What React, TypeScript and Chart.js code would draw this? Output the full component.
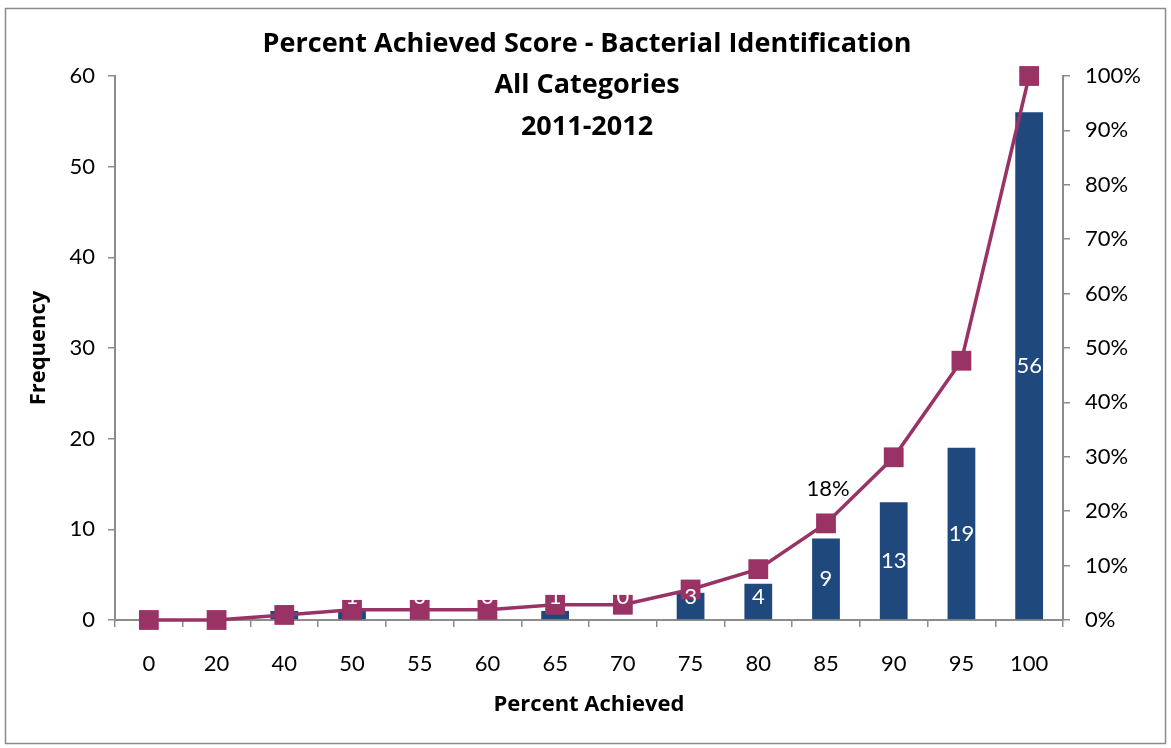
import React, { useEffect, useRef } from "react";
import { Chart, registerables } from "chart.js";

Chart.register(...registerables);

const categories = ["0", "20", "40", "50", "55", "60", "65", "70", "75", "80", "85", "90", "95", "100"];
const frequency = [0, 0, 1, 1, 0, 0, 1, 0, 3, 4, 9, 13, 19, 56];
const cumulativePct = [0, 0, 0.93, 1.87, 1.87, 1.87, 2.8, 2.8, 5.61, 9.35, 17.76, 29.91, 47.66, 100];
const titleLines = ["Percent Achieved Score - Bacterial Identification", "All Categories", "2011-2012"];
const pctLabelIndex = 10;

const FONT = "Lato, 'Liberation Sans', sans-serif";
const BOLD_FONT = "'Open Sans', 'Liberation Sans', sans-serif";

const decorPlugin = {
  id: "decor",
  beforeDraw(chart: any) {
    const { ctx, width, height } = chart;
    ctx.save();
    ctx.fillStyle = "#ffffff";
    ctx.fillRect(0, 0, width, height);
    ctx.strokeStyle = "#8c8c8c";
    ctx.lineWidth = 1.5;
    ctx.strokeRect(5.5, 8.5, width - 11, height - 13);
    ctx.restore();
  },
  afterDatasetsDraw(chart: any) {
    const { ctx } = chart;
    const barMeta = chart.getDatasetMeta(1);
    const lineMeta = chart.getDatasetMeta(0);
    const yScale = chart.scales.y;
    const base = yScale.getPixelForValue(0);
    ctx.save();
    ctx.font = `22px ${FONT}`;
    ctx.fillStyle = "#ffffff";
    ctx.textAlign = "center";
    ctx.textBaseline = "middle";
    barMeta.data.forEach((bar: any, i: number) => {
      const center = (bar.y + base) / 2;
      const y = Math.min(center, base - 23);
      ctx.fillText(String(frequency[i]), bar.x, y);
    });
    const pt = lineMeta.data[pctLabelIndex];
    ctx.fillStyle = "#000000";
    ctx.fillText(Math.round(cumulativePct[pctLabelIndex]) + "%", pt.x + 2, pt.y - 34);
    // title
    ctx.font = `bold 27px ${BOLD_FONT}`;
    ctx.fillStyle = "#000000";
    titleLines.forEach((t, i) => ctx.fillText(t, 587, 44 + i * 41.5));
    ctx.restore();
  },
};

export default function App() {
  const ref = useRef<HTMLCanvasElement>(null);
  useEffect(() => {
    if (!ref.current) return;
    const tickFont = { family: FONT, size: 22 };
    const chart = new Chart(ref.current, {
      type: "bar",
      data: {
        labels: categories,
        datasets: [
          {
            type: "line",
            data: cumulativePct,
            yAxisID: "y1",
            borderColor: "#993366",
            backgroundColor: "#993366",
            borderWidth: 3.5,
            pointStyle: "rect",
            pointRadius: 14,
            pointBorderWidth: 0,
            order: 0,
            tension: 0,
            clip: false,
          } as any,
          {
            type: "bar",
            data: frequency,
            yAxisID: "y",
            backgroundColor: "#1F497D",
            barPercentage: 0.41,
            categoryPercentage: 1,
            order: 1,
          },
        ],
      },
      options: {
        animation: false,
        responsive: false,
        maintainAspectRatio: false,
        layout: { padding: { top: 76, right: 0, left: 0, bottom: 0 } },
        plugins: { legend: { display: false }, tooltip: { enabled: false }, title: { display: false } },
        scales: {
          x: {
            grid: { display: true, drawOnChartArea: false, drawTicks: true, tickLength: 7, offset: true, color: "#8c8c8c", lineWidth: 1.5 },
            border: { display: true, color: "#8c8c8c", width: 2 },
            ticks: { color: "#000", font: tickFont, padding: 24, maxRotation: 0 },
            title: { display: true, text: "Percent Achieved", color: "#000", font: { family: BOLD_FONT, size: 22, weight: "bold" }, padding: { top: 0, bottom: 30 } },
            afterFit: (s: any) => { s.height = 128; },
          },
          y: {
            position: "left",
            min: 0,
            max: 60,
            grid: { display: true, drawOnChartArea: false, drawTicks: true, tickLength: 7, color: "#8c8c8c", lineWidth: 1.5 },
            border: { display: true, color: "#8c8c8c", width: 2 },
            ticks: { stepSize: 10, color: "#000", font: tickFont, padding: 13 },
            title: { display: true, text: "Frequency", color: "#000", font: { family: BOLD_FONT, size: 22, weight: "bold" }, padding: { top: 26, bottom: 0 } },
            afterFit: (s: any) => { s.width = 115; },
          },
          y1: {
            position: "right",
            min: 0,
            max: 100,
            grid: { display: true, drawOnChartArea: false, drawTicks: true, tickLength: 7, color: "#8c8c8c", lineWidth: 1.5 },
            border: { display: true, color: "#8c8c8c", width: 2 },
            ticks: { stepSize: 10, color: "#000", font: tickFont, padding: 15, callback: (v: any) => v + "%" },
            afterFit: (s: any) => { s.width = 108; },
          },
        },
      } as any,
      plugins: [decorPlugin],
    });
    return () => chart.destroy();
  }, []);
  return (
    <div style={{ position: "fixed", left: 0, top: 0, width: 1171, height: 748, background: "#fff" }}>
      <canvas ref={ref} width={1171} height={748} style={{ width: 1171, height: 748 }} />
    </div>
  );
}
